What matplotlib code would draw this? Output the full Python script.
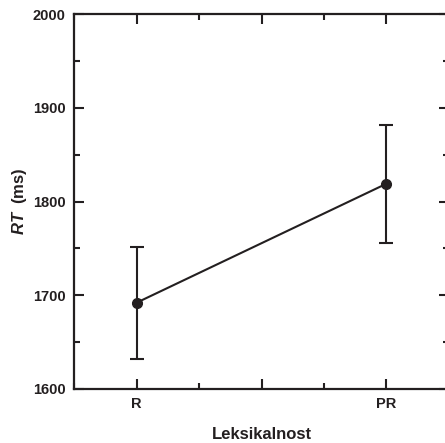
import matplotlib
matplotlib.use("Agg")
import matplotlib.pyplot as plt
from matplotlib.ticker import MultipleLocator

plt.rcParams['font.family'] = ['Liberation Sans', 'DejaVu Sans']
plt.rcParams['font.weight'] = 'bold'
plt.rcParams['axes.labelweight'] = 'bold'
plt.rcParams['mathtext.fontset'] = 'custom'
plt.rcParams['mathtext.it'] = 'Liberation Sans:bold:italic'
plt.rcParams['mathtext.rm'] = 'Liberation Sans:bold'

# data
conditions = ['R', 'PR']
positions = [0, 1]
rt_means = [1692, 1819]
rt_errors = [60, 63]

ink = '#231f20'

fig = plt.figure(figsize=(4.45, 4.43), dpi=100)
ax = fig.add_axes([74 / 445, 1 - 389 / 443, 375 / 445, 375 / 443])

ax.errorbar(positions, rt_means, yerr=rt_errors, color=ink, lw=1.5,
            marker='o', ms=7, capsize=5, capthick=1.5, elinewidth=1.5)

ax.set_xlim(-0.25, 1.25)
ax.set_ylim(1600, 2000)
ax.set_xticks([0, 0.5, 1])
ax.set_xticklabels(['R', '', 'PR'])
ax.xaxis.set_minor_locator(MultipleLocator(0.25))
ax.yaxis.set_major_locator(MultipleLocator(100))
ax.yaxis.set_minor_locator(MultipleLocator(50))

ax.tick_params(which='both', direction='in', top=True, right=True,
               color=ink, width=1.5, labelsize=10.5, labelcolor=ink)
ax.tick_params(which='major', length=7, pad=6)
ax.tick_params(which='minor', length=4)
for sp in ax.spines.values():
    sp.set_linewidth(1.6)
    sp.set_color(ink)

ax.set_xlabel('Leksikalnost', fontsize=12, fontweight='bold', color=ink, labelpad=11)
ax.set_ylabel(r'$RT$  (ms)', fontsize=12, fontweight='bold', color=ink, labelpad=3)

fig.savefig('out.png', dpi=100)
